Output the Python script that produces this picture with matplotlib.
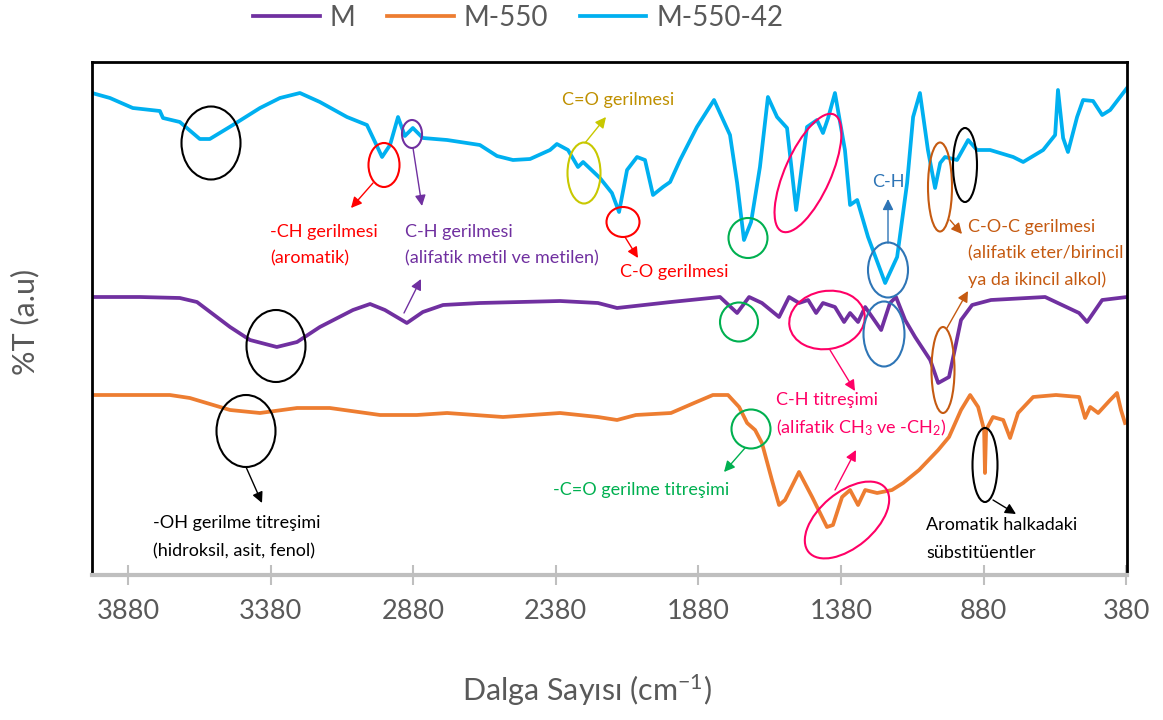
import matplotlib.pyplot as plt
from matplotlib.patches import Ellipse

plt.rcParams['font.family'] = ['Lato', 'DejaVu Sans']
plt.rcParams['mathtext.fontset'] = 'custom'
plt.rcParams['mathtext.rm'] = 'Lato'
plt.rcParams['mathtext.it'] = 'Lato:italic'

# FTIR spektrumlari (dalga sayisi, %T a.u.)
wn_m = [4006, 3838, 3698, 3638, 3522, 3452, 3358, 3287, 3207, 3091, 3031, 2979, 2902, 2846,
        2775, 2646, 2505, 2365, 2232, 2165, 1976, 1804, 1744, 1702, 1657, 1597, 1562, 1527,
        1495, 1467, 1443, 1401, 1369, 1348, 1320, 1295, 1239, 1208, 1187, 1155, 1120, 1067,
        1039, 1001, 959, 920, 854, 664, 545, 517, 464, 377]
t_m = [278, 278, 277, 273, 248, 235, 228, 233, 248, 265, 271, 265, 252, 263,
       270, 272, 273, 274, 272, 267, 273, 278, 262, 278, 272, 258, 278, 272,
       275, 262, 272, 268, 253, 262, 253, 268, 245, 272, 278, 255, 238, 215,
       192, 198, 255, 270, 275, 278, 262, 253, 275, 278]

wn_m550 = [4006, 3733, 3663, 3522, 3417, 3287, 3172, 2996, 2867, 2761, 2565, 2365, 2232, 2165,
           2099, 1976, 1895, 1829, 1776, 1737, 1709, 1681, 1657, 1622, 1597, 1576, 1527, 1481,
           1429, 1408, 1376, 1348, 1320, 1295, 1253, 1201, 1162, 1106, 1039, 1001, 959, 927,
           899, 878, 875, 871, 847, 811, 787, 759, 706, 626, 545, 524, 506, 478, 436, 412,
           398, 384]
t_m550 = [180, 180, 177, 165, 162, 167, 167, 160, 160, 162, 158, 162, 158, 155,
          160, 162, 172, 180, 180, 168, 152, 145, 132, 95, 70, 75, 103, 78,
          48, 50, 78, 85, 70, 85, 82, 85, 92, 105, 125, 138, 165, 180,
          168, 145, 102, 145, 158, 155, 137, 162, 178, 180, 178, 157, 168, 162, 175, 182,
          165, 152]

wn_m55042 = [4006, 3943, 3863, 3768, 3757, 3698, 3628, 3593, 3512, 3417, 3347, 3277, 3207, 3112,
             3042, 3007, 2989, 2961, 2933, 2909, 2881, 2846, 2761, 2646, 2586, 2530, 2470, 2400,
             2376, 2337, 2302, 2284, 2225, 2183, 2158, 2130, 2095, 2067, 2039, 2004, 1979, 1944,
             1885, 1825, 1769, 1744, 1720, 1695, 1664, 1636, 1604, 1569, 1537, 1499, 1464, 1443,
             1425, 1401, 1366, 1348, 1323, 1285, 1225, 1183, 1148, 1127, 1103, 1075, 1050, 1032,
             1015, 973, 934, 903, 857, 776, 741, 671, 629, 619, 601, 584, 552, 531, 496, 464,
             436, 377]
t_m55042 = [482, 477, 467, 464, 457, 453, 436, 436, 450, 467, 477, 482, 473, 458,
            450, 429, 418, 430, 458, 439, 447, 437, 435, 430, 419, 415, 416, 425,
            431, 425, 408, 413, 397, 382, 363, 405, 418, 415, 380, 388, 393, 415,
            448, 475, 440, 392, 335, 353, 408, 478, 458, 447, 365, 448, 455, 442,
            457, 482, 425, 370, 375, 338, 292, 318, 392, 458, 482, 425, 387, 412,
            418, 415, 435, 425, 425, 418, 413, 425, 440, 485, 437, 423, 458, 475, 474, 460,
            465, 487]

xticks = [3880, 3380, 2880, 2380, 1880, 1380, 880, 380]

gray = '#595959'
fig = plt.figure(figsize=(11.63, 7.2), dpi=100)
ax = fig.add_axes([92 / 1163, 1 - 575 / 720, 1035 / 1163, 513 / 720])

ax.plot(wn_m, t_m, color='#7030A0', lw=2.7, label='M')
ax.plot(wn_m550, t_m550, color='#ED7D31', lw=2.7, label='M-550')
ax.plot(wn_m55042, t_m55042, color='#00B0F0', lw=2.7, label='M-550-42')

ax.set_xlim(4006, 377)
ax.set_ylim(0, 513)
ax.set_xticks(xticks)
ax.set_xticklabels([str(v) for v in xticks], fontsize=19.5, color=gray)
ax.set_yticks([])
ax.tick_params(axis='x', direction='inout', length=14, width=1.5, color='#BFBFBF', pad=10)
for s in ['left', 'top', 'right']:
    ax.spines[s].set_color('black')
    ax.spines[s].set_linewidth(2)
ax.spines['bottom'].set_color('#BFBFBF')
ax.spines['bottom'].set_linewidth(3)

fig.legend(loc='center', bbox_to_anchor=(518 / 1163, 1 - 18 / 720), ncol=3, frameon=False,
           fontsize=20, handlelength=2.4, handletextpad=0.35, columnspacing=1.15,
           labelcolor=gray)

fig.text(25 / 1163, 1 - 322 / 720, '%T (a.u)', rotation=90, ha='center', va='center',
         fontsize=22, color=gray)
fig.text(587 / 1163, 1 - 690 / 720, 'Dalga Sayısı (cm$^{-1}$)', ha='center', va='center',
         fontsize=22, color=gray)

# isaretler: resim pikseli koordinatlarinda bir ust katman
ov = fig.add_axes([0, 0, 1, 1], zorder=5)
ov.set_xlim(0, 1163)
ov.set_ylim(720, 0)
ov.axis('off')
ov.patch.set_alpha(0)

red = '#FF0000'
purple = '#7030A0'
pink = '#FF0066'
green = '#00B050'
blue = '#2E75B6'
orange = '#C55A11'

ellipses = [
    (211, 143, 59, 73, 0, 'black'),
    (384, 165, 31, 44, 0, red),
    (412, 134, 20, 28, 0, purple),
    (584, 173, 33, 61, 0, '#C8C800'),
    (623, 222, 33, 30, 0, red),
    (748, 238, 39, 40, 0, green),
    (808, 173, 128, 46, -66, pink),
    (888, 270, 40, 55, 0, blue),
    (940, 187, 24, 89, 0, orange),
    (965, 165, 24, 74, 0, 'black'),
    (739, 322, 38, 39, 0, green),
    (827, 320, 76, 58, -10, pink),
    (884, 334, 41, 65, 0, blue),
    (943, 370, 23, 86, 0, orange),
    (276, 346, 59, 72, 0, 'black'),
    (246, 431, 59, 72, 0, 'black'),
    (751, 429, 39, 39, 0, green),
    (847, 520, 100, 55, -40, pink),
    (985, 465, 25, 74, 0, 'black'),
]
for cx, cy, w, h, a, c in ellipses:
    ov.add_patch(Ellipse((cx, cy), w, h, angle=a, fill=False, edgecolor=c, lw=1.5))

arrows = [
    ((373, 183), (351, 208), red),
    ((413, 148), (422, 206), purple),
    ((404, 313), (421, 279), purple),
    ((585, 143), (606, 117), '#C8C800'),
    ((625, 237), (638, 258), red),
    ((745, 448), (724, 472), green),
    ((888, 243), (888, 199), blue),
    ((950, 220), (962, 234), orange),
    ((947, 328), (968, 291), orange),
    ((830, 350), (855, 391), pink),
    ((835, 490), (856, 450), pink),
    ((246, 467), (262, 503), 'black'),
    ((993, 500), (1016, 514), 'black'),
]
for tail, head, c in arrows:
    ov.annotate('', xy=head, xytext=tail,
                arrowprops=dict(arrowstyle='-|>', color=c, lw=1, mutation_scale=16,
                                shrinkA=0, shrinkB=0))

labels = [
    (270, 232, '-CH gerilmesi', red),
    (270, 258, '(aromatik)', red),
    (405, 232, 'C-H gerilmesi', purple),
    (405, 258, '(alifatik metil ve metilen)', purple),
    (562, 100, 'C=O gerilmesi', '#BF9000'),
    (620, 272, 'C-O gerilmesi', red),
    (872, 182, 'C-H', blue),
    (968, 227, 'C-O-C gerilmesi', orange),
    (968, 253, '(alifatik eter/birincil', orange),
    (968, 280, 'ya da ikincil alkol)', orange),
    (776, 400, 'C-H titreşimi', pink),
    (776, 428, '(alifatik CH$_3$ ve -CH$_2$)', pink),
    (553, 490, '-C=O gerilme titreşimi', green),
    (153, 523, '-OH gerilme titreşimi', 'black'),
    (153, 551, '(hidroksil, asit, fenol)', 'black'),
    (926, 525, 'Aromatik halkadaki', 'black'),
    (926, 553, 'sübstitüentler', 'black'),
]
for x, y, s, c in labels:
    ov.text(x, y, s, color=c, fontsize=13, ha='left', va='center')

fig.savefig('out.png', dpi=100)
